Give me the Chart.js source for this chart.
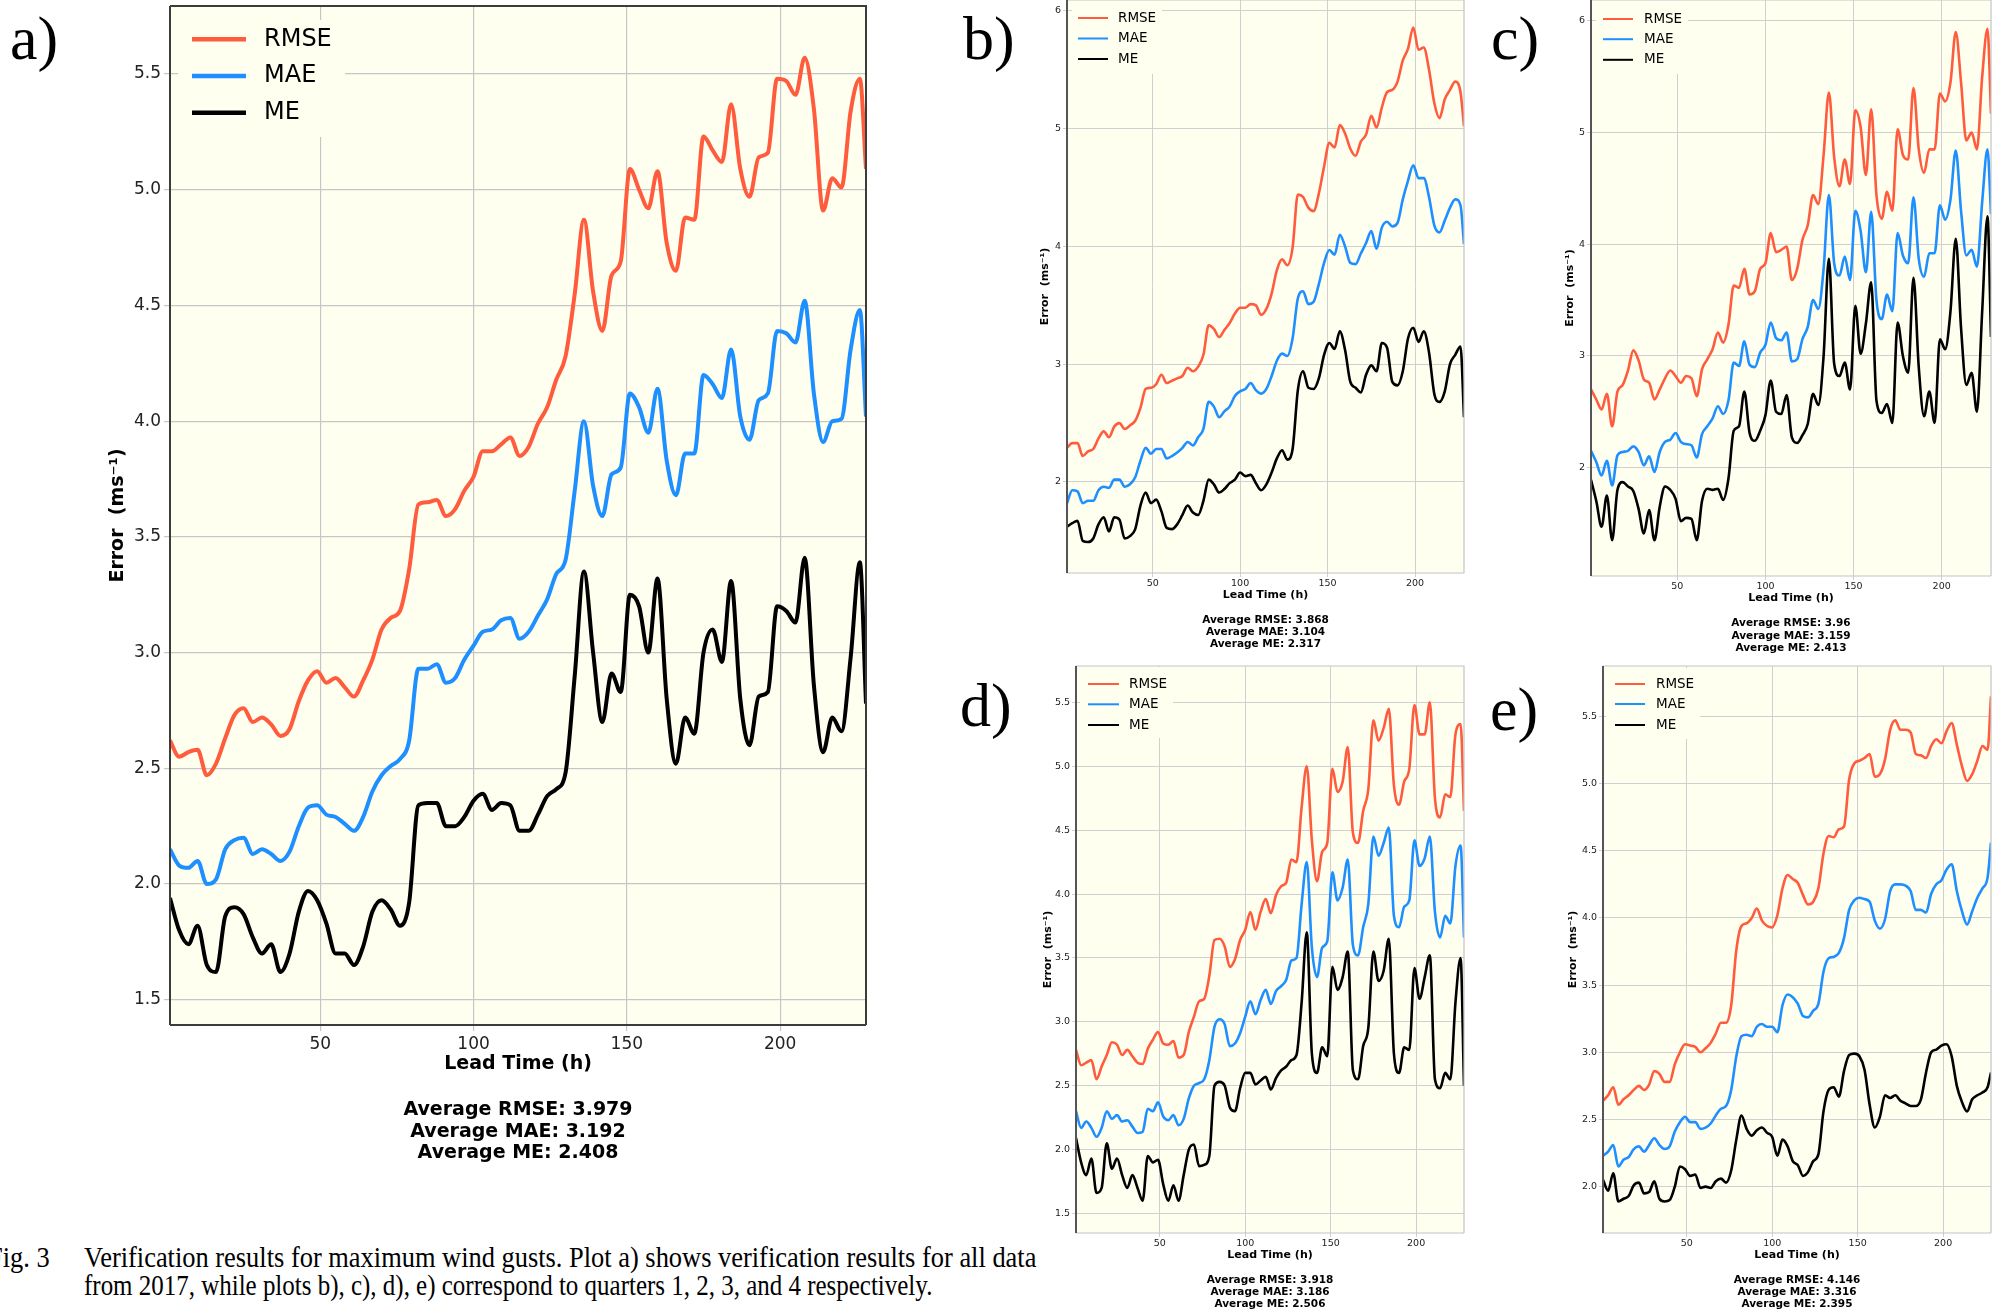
<!DOCTYPE html>
<html>
<head>
<meta charset="utf-8">
<script src="https://cdn.jsdelivr.net/npm/chart.js@4.4.0/dist/chart.umd.min.js"></script>
<style>
  html, body { margin: 0; padding: 0; background: #fff; }
  body { width: 2002px; height: 1314px; position: relative; overflow: hidden; }
  .panel { position: absolute; }
  .tag { position: absolute; font-family: 'Liberation Serif', 'Times New Roman', serif; font-size: 62px; line-height: 62px; color: #000; }
  .cap { position: absolute; font-family: 'Liberation Serif', 'Times New Roman', serif; font-size: 30px; line-height: 30px; color: #000; white-space: nowrap; transform-origin: left top; }
</style>
</head>
<body>

<div class="tag" style="left:10px; top:7px;">a)</div>
<div class="tag" style="left:963px; top:7px;">b)</div>
<div class="tag" style="left:1491px; top:7px;">c)</div>
<div class="tag" style="left:960px; top:674px;">d)</div>
<div class="tag" style="left:1490px; top:678px;">e)</div>

<div class="cap" id="figno" style="top:1242px;">Fig. 3</div>
<div class="cap" id="cap1" style="left:84px; top:1242px;">Verification results for maximum wind gusts. Plot a) shows verification results for all data</div>
<div class="cap" id="cap2" style="left:84px; top:1270px;">from 2017, while plots b), c), d), e) correspond to quarters 1, 2, 3, and 4 respectively.</div>

<script>
// lead times (h), shared by every panel
const hours = [1, 4, 7, 10, 13, 16, 19, 22, 25, 28, 31, 34, 37, 40, 43, 46, 49, 52, 55, 58,
  61, 64, 67, 70, 73, 76, 79, 82, 85, 88, 91, 94, 97, 100, 103, 106, 109, 112, 115, 118,
  121, 124, 127, 130, 133, 136, 139, 142, 145, 148, 151, 154, 157, 160, 163, 166, 169, 172, 175, 178,
  181, 184, 187, 190, 193, 196, 199, 202, 205, 208, 211, 214, 217, 220, 223, 226, 228];

const xTicks = [50, 100, 150, 200];
const yTicksHalf = [1.5, 2.0, 2.5, 3.0, 3.5, 4.0, 4.5, 5.0, 5.5];
const yTicksUnit = [2, 3, 4, 5, 6];
const yTicksQ4 = [2.0, 2.5, 3.0, 3.5, 4.0, 4.5, 5.0, 5.5];

// a) all of 2017
const rmseAll = [2.62, 2.55, 2.57, 2.58, 2.47, 2.52, 2.63, 2.73, 2.76, 2.70,
  2.72, 2.69, 2.64, 2.67, 2.79, 2.88, 2.92, 2.87, 2.89, 2.85,
  2.81, 2.88, 2.97, 3.10, 3.15, 3.18, 3.36, 3.64, 3.65, 3.66,
  3.59, 3.62, 3.70, 3.76, 3.87, 3.87, 3.90, 3.93, 3.85, 3.89,
  3.99, 4.06, 4.18, 4.28, 4.55, 4.87, 4.56, 4.39, 4.63, 4.69,
  5.09, 5.00, 4.92, 5.08, 4.77, 4.65, 4.88, 4.87, 5.23, 5.17,
  5.12, 5.37, 5.09, 4.97, 5.14, 5.16, 5.48, 5.47, 5.41, 5.57,
  5.35, 4.91, 5.05, 5.01, 5.34, 5.48, 5.09];
const maeAll = [2.15, 2.08, 2.07, 2.10, 2.00, 2.02, 2.15, 2.19, 2.20, 2.13,
  2.15, 2.13, 2.10, 2.14, 2.25, 2.33, 2.34, 2.30, 2.29, 2.26,
  2.23, 2.29, 2.40, 2.47, 2.51, 2.54, 2.62, 2.93, 2.93, 2.95,
  2.87, 2.89, 2.97, 3.03, 3.09, 3.10, 3.14, 3.15, 3.06, 3.09,
  3.16, 3.23, 3.34, 3.40, 3.70, 4.00, 3.72, 3.59, 3.77, 3.80,
  4.12, 4.06, 3.95, 4.14, 3.83, 3.68, 3.86, 3.86, 4.20, 4.16,
  4.10, 4.31, 4.02, 3.92, 4.09, 4.12, 4.39, 4.38, 4.34, 4.52,
  4.12, 3.91, 4.00, 4.01, 4.31, 4.48, 4.02];
const meAll = [1.94, 1.80, 1.74, 1.82, 1.65, 1.62, 1.86, 1.90, 1.87, 1.77,
  1.70, 1.74, 1.62, 1.70, 1.88, 1.97, 1.93, 1.83, 1.70, 1.70,
  1.65, 1.73, 1.88, 1.93, 1.89, 1.82, 1.92, 2.34, 2.35, 2.35,
  2.25, 2.25, 2.29, 2.36, 2.39, 2.32, 2.35, 2.34, 2.23, 2.23,
  2.30, 2.38, 2.41, 2.48, 2.90, 3.35, 3.00, 2.70, 2.91, 2.83,
  3.25, 3.20, 3.00, 3.32, 2.80, 2.52, 2.72, 2.65, 3.00, 3.10,
  2.96, 3.31, 2.80, 2.60, 2.81, 2.83, 3.20, 3.18, 3.13, 3.41,
  2.86, 2.57, 2.72, 2.66, 2.98, 3.39, 2.78];

// b) quarter 1
const rmseQ1 = [2.29, 2.33, 2.33, 2.22, 2.26, 2.28, 2.37, 2.43, 2.38, 2.47,
  2.50, 2.45, 2.48, 2.52, 2.63, 2.79, 2.80, 2.83, 2.91, 2.84,
  2.86, 2.88, 2.90, 2.97, 2.94, 2.98, 3.08, 3.33, 3.30, 3.23,
  3.29, 3.35, 3.43, 3.48, 3.48, 3.51, 3.50, 3.42, 3.47, 3.60,
  3.80, 3.89, 3.84, 3.99, 4.44, 4.42, 4.33, 4.30, 4.45, 4.68,
  4.88, 4.84, 5.03, 4.96, 4.83, 4.77, 4.89, 4.95, 5.11, 5.01,
  5.18, 5.31, 5.33, 5.40, 5.58, 5.68, 5.86, 5.67, 5.69, 5.50,
  5.22, 5.09, 5.25, 5.33, 5.40, 5.31, 5.02];
const maeQ1 = [1.82, 1.93, 1.92, 1.82, 1.84, 1.84, 1.93, 1.96, 1.95, 2.02,
  2.02, 1.96, 1.98, 2.04, 2.18, 2.29, 2.24, 2.28, 2.28, 2.20,
  2.22, 2.25, 2.29, 2.34, 2.31, 2.38, 2.45, 2.68, 2.64, 2.55,
  2.60, 2.64, 2.73, 2.77, 2.79, 2.84, 2.78, 2.75, 2.79, 2.90,
  3.03, 3.09, 3.07, 3.22, 3.56, 3.62, 3.51, 3.53, 3.68, 3.86,
  3.97, 3.93, 4.10, 4.00, 3.86, 3.85, 3.94, 4.03, 4.13, 3.98,
  4.16, 4.21, 4.17, 4.20, 4.40, 4.56, 4.69, 4.58, 4.58, 4.42,
  4.18, 4.12, 4.22, 4.33, 4.40, 4.35, 4.02];
const meQ1 = [1.62, 1.65, 1.67, 1.50, 1.49, 1.52, 1.64, 1.70, 1.58, 1.70,
  1.68, 1.52, 1.54, 1.60, 1.80, 1.91, 1.82, 1.85, 1.75, 1.61,
  1.60, 1.64, 1.72, 1.80, 1.74, 1.72, 1.84, 2.02, 1.98, 1.91,
  1.94, 1.99, 2.02, 2.08, 2.05, 2.06, 1.99, 1.93, 1.98, 2.08,
  2.20, 2.27, 2.19, 2.28, 2.78, 2.94, 2.80, 2.79, 2.88, 3.08,
  3.18, 3.13, 3.28, 3.12, 2.85, 2.80, 2.76, 2.91, 2.99, 2.94,
  3.18, 3.14, 2.85, 2.82, 2.94, 3.22, 3.31, 3.19, 3.28, 3.10,
  2.75, 2.68, 2.77, 3.00, 3.08, 3.15, 2.55];

// c) quarter 2
const rmseQ2 = [2.70, 2.61, 2.52, 2.66, 2.37, 2.68, 2.74, 2.87, 3.05, 2.96,
  2.79, 2.76, 2.61, 2.70, 2.80, 2.87, 2.82, 2.76, 2.82, 2.80,
  2.64, 2.88, 2.97, 3.06, 3.21, 3.12, 3.28, 3.63, 3.61, 3.78,
  3.55, 3.58, 3.78, 3.83, 4.10, 3.93, 3.95, 3.98, 3.68, 3.78,
  4.04, 4.17, 4.44, 4.36, 4.80, 5.36, 4.78, 4.52, 4.76, 4.54,
  5.20, 5.05, 4.62, 5.21, 4.44, 4.23, 4.47, 4.30, 5.03, 4.80,
  4.76, 5.40, 4.85, 4.64, 4.85, 4.85, 5.35, 5.28, 5.45, 5.90,
  5.45, 4.93, 5.00, 4.85, 5.50, 5.93, 5.17];
const maeQ2 = [2.15, 2.05, 1.93, 2.06, 1.84, 2.11, 2.14, 2.15, 2.19, 2.14,
  2.02, 2.10, 1.96, 2.14, 2.23, 2.25, 2.31, 2.23, 2.21, 2.20,
  2.09, 2.30, 2.37, 2.44, 2.55, 2.48, 2.60, 2.94, 2.91, 3.13,
  2.92, 2.90, 3.03, 3.10, 3.30, 3.16, 3.14, 3.21, 2.95, 2.97,
  3.15, 3.26, 3.50, 3.42, 3.78, 4.44, 3.83, 3.72, 3.89, 3.68,
  4.30, 4.12, 3.75, 4.29, 3.50, 3.33, 3.55, 3.40, 4.10, 3.90,
  3.83, 4.42, 3.87, 3.71, 3.92, 3.92, 4.35, 4.22, 4.40, 4.84,
  4.30, 3.90, 3.95, 3.80, 4.38, 4.85, 4.27];
const meQ2 = [1.89, 1.70, 1.47, 1.75, 1.35, 1.80, 1.87, 1.83, 1.79, 1.63,
  1.41, 1.62, 1.35, 1.65, 1.83, 1.80, 1.72, 1.52, 1.55, 1.54,
  1.35, 1.70, 1.81, 1.80, 1.81, 1.71, 1.90, 2.33, 2.37, 2.68,
  2.31, 2.24, 2.33, 2.47, 2.78, 2.50, 2.48, 2.65, 2.27, 2.22,
  2.29, 2.39, 2.66, 2.56, 3.00, 3.87, 2.93, 2.82, 2.94, 2.70,
  3.45, 3.02, 3.29, 3.66, 2.60, 2.49, 2.57, 2.40, 3.30, 3.00,
  2.85, 3.70, 2.90, 2.46, 2.68, 2.40, 3.15, 3.06, 3.40, 4.05,
  3.25, 2.74, 2.85, 2.50, 3.40, 4.25, 3.17];

// d) quarter 3
const rmseQ3 = [2.78, 2.66, 2.68, 2.70, 2.55, 2.65, 2.74, 2.84, 2.82, 2.74,
  2.78, 2.73, 2.68, 2.67, 2.79, 2.86, 2.92, 2.83, 2.82, 2.85,
  2.72, 2.74, 2.92, 3.04, 3.16, 3.18, 3.36, 3.64, 3.65, 3.59,
  3.43, 3.49, 3.64, 3.72, 3.86, 3.72, 3.86, 3.96, 3.85, 3.99,
  4.06, 4.09, 4.27, 4.25, 4.68, 5.00, 4.42, 4.10, 4.33, 4.40,
  4.98, 4.80, 4.88, 5.15, 4.48, 4.40, 4.65, 4.82, 5.36, 5.20,
  5.30, 5.45, 4.85, 4.70, 4.88, 4.98, 5.48, 5.25, 5.25, 5.50,
  4.75, 4.60, 4.78, 4.76, 5.25, 5.33, 4.65];
const maeQ3 = [2.30, 2.17, 2.22, 2.17, 2.10, 2.17, 2.30, 2.24, 2.27, 2.22,
  2.23, 2.18, 2.13, 2.14, 2.32, 2.30, 2.37, 2.26, 2.23, 2.27,
  2.19, 2.24, 2.40, 2.50, 2.52, 2.55, 2.70, 2.96, 3.02, 2.98,
  2.81, 2.83, 2.91, 3.04, 3.16, 3.06, 3.17, 3.25, 3.14, 3.24,
  3.28, 3.33, 3.48, 3.50, 3.92, 4.25, 3.58, 3.35, 3.58, 3.63,
  4.17, 3.95, 4.05, 4.27, 3.60, 3.52, 3.74, 3.92, 4.45, 4.30,
  4.40, 4.52, 3.83, 3.74, 3.90, 3.95, 4.42, 4.22, 4.28, 4.45,
  3.86, 3.66, 3.83, 3.77, 4.22, 4.38, 3.66];
const meQ3 = [2.09, 1.90, 1.80, 1.93, 1.66, 1.70, 2.05, 1.85, 1.93, 1.80,
  1.70, 1.80, 1.70, 1.60, 1.95, 1.90, 1.92, 1.73, 1.60, 1.72,
  1.60, 1.80, 2.00, 2.04, 1.87, 1.88, 1.95, 2.50, 2.53, 2.50,
  2.33, 2.30, 2.48, 2.60, 2.60, 2.51, 2.54, 2.57, 2.47, 2.56,
  2.62, 2.65, 2.70, 2.74, 3.15, 3.70, 2.75, 2.60, 2.80, 2.73,
  3.43, 3.25, 3.35, 3.55, 2.62, 2.55, 2.81, 2.95, 3.55, 3.32,
  3.40, 3.65, 2.75, 2.60, 2.80, 2.78, 3.42, 3.18, 3.35, 3.52,
  2.55, 2.48, 2.60, 2.55, 3.15, 3.50, 2.50];

// e) quarter 4
const rmseQ4 = [2.64, 2.68, 2.74, 2.61, 2.65, 2.68, 2.72, 2.75, 2.72, 2.76,
  2.86, 2.84, 2.78, 2.78, 2.91, 3.00, 3.06, 3.05, 3.04, 3.00,
  3.03, 3.07, 3.14, 3.22, 3.22, 3.35, 3.76, 3.94, 3.96, 4.00,
  4.07, 3.98, 3.94, 3.93, 4.02, 4.22, 4.32, 4.29, 4.26, 4.17,
  4.10, 4.12, 4.22, 4.48, 4.61, 4.60, 4.66, 4.68, 5.03, 5.15,
  5.17, 5.19, 5.22, 5.05, 5.07, 5.18, 5.40, 5.47, 5.40, 5.40,
  5.38, 5.22, 5.21, 5.19, 5.28, 5.33, 5.30, 5.39, 5.45, 5.29,
  5.13, 5.02, 5.07, 5.17, 5.28, 5.25, 5.65];
const maeQ4 = [2.23, 2.26, 2.31, 2.15, 2.20, 2.22, 2.28, 2.30, 2.26, 2.31,
  2.36, 2.31, 2.28, 2.30, 2.41, 2.48, 2.52, 2.48, 2.48, 2.43,
  2.44, 2.47, 2.53, 2.58, 2.60, 2.72, 2.97, 3.12, 3.13, 3.12,
  3.19, 3.21, 3.19, 3.19, 3.15, 3.35, 3.43, 3.41, 3.36, 3.27,
  3.26, 3.31, 3.36, 3.60, 3.70, 3.71, 3.74, 3.85, 4.06, 4.13,
  4.15, 4.14, 4.12, 3.98, 3.92, 3.99, 4.20, 4.25, 4.25, 4.24,
  4.20, 4.06, 4.06, 4.04, 4.18, 4.25, 4.28, 4.36, 4.40, 4.20,
  4.05, 3.95, 4.05, 4.15, 4.22, 4.30, 4.56];
const meQ4 = [2.05, 1.97, 2.10, 1.89, 1.91, 1.93, 2.01, 2.03, 1.95, 1.96,
  2.04, 1.91, 1.89, 1.90, 2.00, 2.15, 2.13, 2.08, 2.09, 1.99,
  2.00, 1.99, 2.04, 2.06, 2.03, 2.12, 2.35, 2.53, 2.43, 2.38,
  2.42, 2.44, 2.40, 2.37, 2.23, 2.35, 2.30, 2.19, 2.16, 2.08,
  2.11, 2.19, 2.24, 2.56, 2.72, 2.74, 2.67, 2.86, 2.98, 2.99,
  2.97, 2.87, 2.61, 2.44, 2.52, 2.68, 2.66, 2.68, 2.64, 2.62,
  2.60, 2.60, 2.65, 2.85, 3.00, 3.02, 3.05, 3.06, 2.97, 2.75,
  2.63, 2.56, 2.65, 2.68, 2.70, 2.74, 2.85];

// averages printed under each panel
const avgAll = ['3.979', '3.192', '2.408'];
const avgQ1 = ['3.868', '3.104', '2.317'];
const avgQ2 = ['3.96', '3.159', '2.413'];
const avgQ3 = ['3.918', '3.186', '2.506'];
const avgQ4 = ['4.146', '3.316', '2.395'];

const seriesNames = ['RMSE', 'MAE', 'ME'];
const seriesColors = ['#ff5b3d', '#1e8fff', '#000000'];

Chart.defaults.font.family = "'DejaVu Sans', 'Noto Sans', sans-serif";

// plot background, frame, in-axes legend and the text around each panel
const panelDecor = {
  id: 'panelDecor',
  beforeDraw(chart, args, o) {
    const { ctx, chartArea: a } = chart;
    ctx.save();
    ctx.fillStyle = o.bg;
    ctx.fillRect(a.left, a.top, a.right - a.left, a.bottom - a.top);
    ctx.restore();
  },
  afterDraw(chart, args, o) {
    const { ctx, chartArea: a } = chart;
    ctx.save();

    // legend: opaque box hides the grid under it, rows in RMSE, MAE, ME order
    const lg = o.legend;
    ctx.fillStyle = o.bg;
    ctx.fillRect(a.left + lg.box[0], a.top + lg.box[1], lg.box[2] - lg.box[0], lg.box[3] - lg.box[1]);
    ctx.font = lg.font;
    ctx.textBaseline = 'middle';
    ctx.textAlign = 'left';
    seriesNames.forEach((name, i) => {
      const y = a.top + lg.rows[i];
      ctx.strokeStyle = seriesColors[i];
      ctx.lineWidth = lg.lineWidth;
      ctx.beginPath();
      ctx.moveTo(a.left + lg.line[0], y);
      ctx.lineTo(a.left + lg.line[1], y);
      ctx.stroke();
      ctx.fillStyle = '#000';
      ctx.fillText(name, a.left + lg.text, y);
    });

    // frame
    const f = o.frame;
    ctx.lineWidth = f.other[1];
    ctx.strokeStyle = f.other[0];
    ctx.beginPath();
    ctx.moveTo(a.left, a.top); ctx.lineTo(a.right, a.top); ctx.lineTo(a.right, a.bottom);
    ctx.moveTo(a.left, a.bottom); ctx.lineTo(a.right, a.bottom);
    ctx.stroke();
    ctx.lineWidth = f.left[1];
    ctx.strokeStyle = f.left[0];
    ctx.beginPath();
    ctx.moveTo(a.left, a.top); ctx.lineTo(a.left, a.bottom);
    ctx.stroke();

    // axis titles and averages
    const cx = (a.left + a.right) / 2;
    ctx.fillStyle = '#000';
    ctx.textAlign = 'center';
    ctx.font = o.titleFont;
    ctx.fillText('Lead Time (h)', cx, a.bottom + o.xTitleDy);
    ctx.font = o.noteFont;
    o.notes.forEach((t, i) => ctx.fillText(t, cx, a.bottom + o.noteDy[i]));

    ctx.translate(a.left + o.yTitleDx, (a.top + a.bottom) / 2);
    ctx.rotate(-Math.PI / 2);
    ctx.font = o.titleFont;
    ctx.fillText('Error  (ms\u207B\u00B9)', 0, 0);
    ctx.restore();
  }
};

function drawPanel(p) {
  const W = p.plot[2] - p.plot[0] + p.m[0] + p.m[2];
  const H = p.plot[3] - p.plot[1] + p.m[1] + p.m[3];
  const holder = document.createElement('div');
  holder.className = 'panel';
  holder.style.left = (p.plot[0] - p.m[0]) + 'px';
  holder.style.top = (p.plot[1] - p.m[1]) + 'px';
  const canvas = document.createElement('canvas');
  canvas.width = W;
  canvas.height = H;
  canvas.style.width = W + 'px';
  canvas.style.height = H + 'px';
  holder.appendChild(canvas);
  document.body.appendChild(holder);

  // ME drawn first, RMSE last
  const datasets = p.values.map((vals, i) => ({
    label: seriesNames[i],
    data: hours.map((h, k) => ({ x: h, y: vals[k] })),
    borderColor: seriesColors[i],
    borderWidth: p.lw,
    pointRadius: 0,
    fill: false,
    cubicInterpolationMode: 'monotone'
  })).reverse();

  const grid = { color: p.gridColor, lineWidth: p.gridWidth, tickLength: p.tickLen, tickColor: p.gridColor };
  new Chart(canvas, {
    type: 'line',
    data: { datasets },
    options: {
      responsive: false,
      animation: false,
      devicePixelRatio: 1,
      layout: { padding: { left: p.m[0] - p.yAxisW, top: p.m[1], right: p.m[2], bottom: p.m[3] - p.xAxisH } },
      plugins: {
        legend: { display: false },
        tooltip: { enabled: false },
        panelDecor: {
          bg: '#fffff0',
          frame: p.frame,
          legend: p.legend,
          titleFont: p.titleFont,
          noteFont: p.noteFont,
          xTitleDy: p.xTitleDy,
          yTitleDx: p.yTitleDx,
          noteDy: p.noteDy,
          notes: ['Average RMSE: ' + p.avg[0], 'Average MAE: ' + p.avg[1], 'Average ME: ' + p.avg[2]]
        }
      },
      scales: {
        x: {
          type: 'linear', min: 1, max: 228,
          afterBuildTicks: ax => { ax.ticks = xTicks.map(v => ({ value: v })); },
          afterFit: ax => { ax.height = p.xAxisH; },
          grid, border: { display: false },
          ticks: { font: { size: p.tickSize }, color: '#222', padding: p.xPad, maxRotation: 0 }
        },
        y: {
          type: 'linear', min: p.yRange[0], max: p.yRange[1],
          afterBuildTicks: ax => { ax.ticks = p.yTicks.map(v => ({ value: v })); },
          afterFit: ax => { ax.width = p.yAxisW; },
          grid, border: { display: false },
          ticks: { font: { size: p.tickSize }, color: '#222', padding: p.yPad, callback: v => v.toFixed(p.digits) }
        }
      }
    },
    plugins: [panelDecor]
  });
}

// panel layout: plot box [left, top, right, bottom], margins [l, t, r, b]
const big = {
  m: [150, 20, 20, 150], yAxisW: 40, xAxisH: 30, lw: 4, tickSize: 17, tickLen: 6, xPad: 3, yPad: 3,
  gridColor: '#c6c6c6', gridWidth: 1.2,
  frame: { left: ['#3c3c3c', 2], other: ['#3c3c3c', 2] },
  titleFont: 'bold 19px "DejaVu Sans"', noteFont: 'bold 19px "DejaVu Sans"',
  xTitleDy: 39, yTitleDx: -52, noteDy: [85, 106.7, 128.3],
  legend: { box: [8, 14, 175, 131], rows: [33.3, 70, 106.7], line: [22, 76], text: 94, lineWidth: 4.5, font: '24px "DejaVu Sans"' }
};
const small = {
  m: [60, 20, 8, 80], yAxisW: 25, xAxisH: 18, lw: 2.6, tickSize: 9.5, tickLen: 4, xPad: 1, yPad: 2,
  gridColor: '#d0d0d0', gridWidth: 1,
  frame: { left: ['#555555', 2], other: ['#c4c4c4', 1.2] },
  titleFont: 'bold 11px "DejaVu Sans"', noteFont: 'bold 10.5px "DejaVu Sans"',
  xTitleDy: 22.4, noteDy: [47, 59, 71],
  legend: { box: [5, 0, 95, 74], rows: [18, 38.5, 59], line: [11, 41], text: 51, lineWidth: 2, font: '13.5px "DejaVu Sans"' }
};

const panels = [
  Object.assign({}, big, { plot: [170, 6, 866, 1025], yRange: [1.391, 5.794], yTicks: yTicksHalf, digits: 1,
    values: [rmseAll, maeAll, meAll], avg: avgAll }),
  Object.assign({}, small, { plot: [1067, 0, 1464, 573], yRange: [1.227, 6.093], yTicks: yTicksUnit, digits: 0,
    values: [rmseQ1, maeQ1, meQ1], avg: avgQ1, yTitleDx: -22 }),
  Object.assign({}, small, { plot: [1591, 0, 1991, 576], yRange: [1.029, 6.188], yTicks: yTicksUnit, digits: 0,
    values: [rmseQ2, maeQ2, meQ2], avg: avgQ2, yTitleDx: -21,
    noteDy: [47.7, 59.9, 72.1],
    legend: Object.assign({}, small.legend, { box: [5, 0, 97, 74], rows: [19, 39.2, 59.8], line: [12, 42], text: 53 }) }),
  Object.assign({}, small, { plot: [1076, 666, 1464, 1233], yRange: [1.347, 5.785], yTicks: yTicksHalf, digits: 1,
    values: [rmseQ3, maeQ3, meQ3], avg: avgQ3, yTitleDx: -28,
    legend: Object.assign({}, small.legend, { box: [4, 1, 97, 72], rows: [18, 38.3, 59], line: [12, 43], text: 53 }) }),
  Object.assign({}, small, { plot: [1603, 666, 1991, 1233], yRange: [1.655, 5.875], yTicks: yTicksQ4, digits: 1,
    values: [rmseQ4, maeQ4, meQ4], avg: avgQ4, yTitleDx: -30,
    legend: Object.assign({}, small.legend, { box: [3, 2, 97, 73], rows: [18, 38, 59], line: [12, 42], text: 53 }) })
];

panels.forEach(drawPanel);

// caption lines squeezed to the printed width
function fitWidth(id, width) {
  const el = document.getElementById(id);
  const s = width / el.scrollWidth;
  el.style.transform = 'scaleX(' + s + ')';
  return s;
}
const capScale = fitWidth('cap1', 952);
fitWidth('cap2', 848);
const fig = document.getElementById('figno');
fig.style.transform = 'scaleX(' + capScale + ')';
fig.style.left = (50 - fig.scrollWidth * capScale) + 'px';
</script>
</body>
</html>
